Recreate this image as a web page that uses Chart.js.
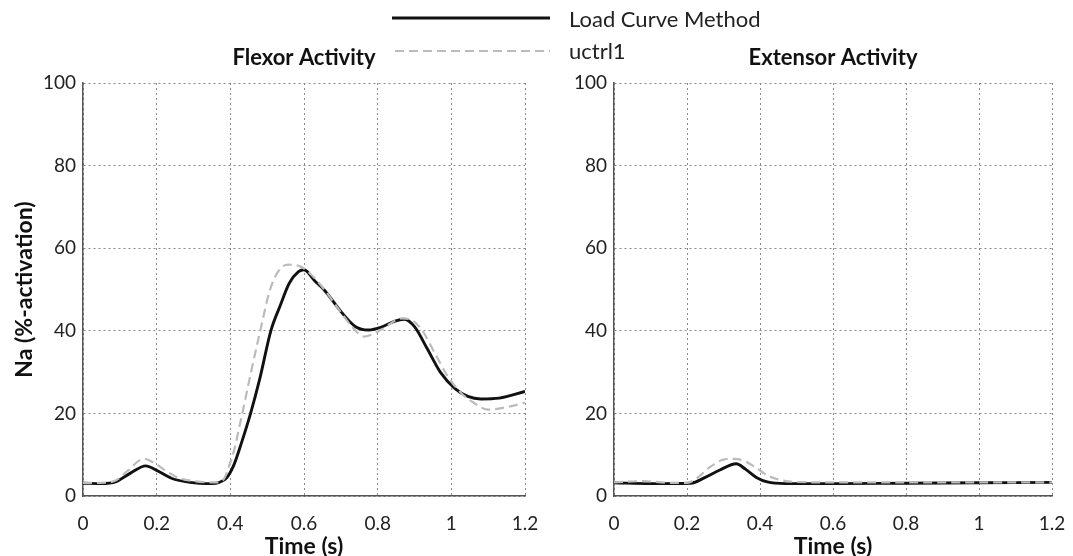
<!DOCTYPE html>
<html>
<head>
<meta charset="utf-8">
<script src="https://cdn.jsdelivr.net/npm/chart.js@4"></script>
<style>
  body { margin: 0; background: #fff; width: 1073px; height: 556px; overflow: hidden; position: relative; font-family: Lato, sans-serif; }
  .wrap { position: absolute; top: 0; }
  .lg { position: absolute; font-size: 22px; color: #222; line-height: 1; white-space: nowrap; }
  #keys { position: absolute; left: 0; top: 0; }
</style>
</head>
<body>
<div class="wrap" style="left:0"><canvas id="flexor" width="545" height="556"></canvas></div>
<div class="wrap" style="left:540px"><canvas id="extensor" width="533" height="556"></canvas></div>

<svg id="keys" width="1073" height="70">
  <line x1="392" y1="18" x2="550" y2="18" stroke="#111" stroke-width="2.8" />
  <line x1="395" y1="51" x2="550" y2="51" stroke="#bbb" stroke-width="2.2" stroke-dasharray="9 5" />
</svg>
<div class="lg" style="left:569px;top:8px">Load Curve Method</div>
<div class="lg" style="left:569px;top:40px">uctrl1</div>

<script>
// time (s) and activation (%)
const flexLoadT = [0, 0.05, 0.09, 0.13, 0.17, 0.2, 0.24, 0.29, 0.35, 0.37, 0.39, 0.41, 0.43, 0.455, 0.48, 0.51, 0.535, 0.56, 0.585, 0.6, 0.63, 0.655, 0.7, 0.74, 0.775, 0.81, 0.845, 0.873, 0.9, 0.935, 0.97, 1.01, 1.045, 1.08, 1.13, 1.2];
const flexLoad  = [3.1, 3.0, 3.5, 5.6, 7.3, 6.2, 4.3, 3.3, 3.0, 3.3, 4.4, 7.6, 12.8, 20, 28.4, 40, 46, 51.5, 54.3, 54.8, 52, 49.9, 44.7, 41, 40.2, 40.9, 42.3, 42.8, 41, 35.6, 30, 26, 24.1, 23.5, 23.7, 25.3];

const flexUctrlT = [0, 0.05, 0.09, 0.12, 0.165, 0.2, 0.23, 0.26, 0.3, 0.37, 0.385, 0.4, 0.41, 0.43, 0.455, 0.48, 0.508, 0.535, 0.56, 0.59, 0.61, 0.655, 0.7, 0.735, 0.764, 0.81, 0.865, 0.89, 0.92, 0.955, 0.99, 1.027, 1.064, 1.1, 1.155, 1.2];
const flexUctrl  = [3.2, 3.2, 3.8, 6.0, 9.0, 7.6, 5.8, 4.4, 3.6, 3.3, 4.5, 8.2, 11, 19, 29.5, 39.5, 50, 55, 56, 55.6, 54.4, 50, 44.5, 40.5, 38.6, 40.3, 43, 42.7, 40.2, 34.6, 29, 24.9, 22.4, 20.9, 21.6, 22.6];

const extLoadT = [0, 0.1, 0.21, 0.25, 0.29, 0.335, 0.36, 0.39, 0.42, 0.47, 0.6, 0.8, 1.0, 1.2];
const extLoad  = [3.2, 3.0, 3.1, 4.5, 6.3, 7.8, 6.5, 4.5, 3.4, 3.0, 3.0, 3.1, 3.2, 3.3];

const extUctrlT = [0, 0.08, 0.15, 0.2, 0.23, 0.26, 0.3, 0.33, 0.36, 0.39, 0.42, 0.45, 0.5, 0.6, 1.2];
const extUctrl  = [3.3, 3.6, 3.2, 3.2, 4.5, 6.8, 8.8, 9.0, 8.4, 6.8, 5.0, 4.0, 3.4, 3.3, 3.3];

const timeTicks = [0, 0.2, 0.4, 0.6, 0.8, 1, 1.2];

const pts = (t, v) => t.map((x, i) => ({ x: x, y: v[i] }));

function makeChart(id, title, loadT, load, uT, u, yWidth, padRight, yTitle) {
  new Chart(document.getElementById(id), {
    type: 'line',
    data: {
      datasets: [
        {
          label: 'uctrl1',
          data: pts(uT, u),
          borderColor: '#bbbbbb',
          borderWidth: 2.2,
          borderDash: [9, 5],
          pointRadius: 0,
          tension: 0.4,
          cubicInterpolationMode: 'monotone',
        },
        {
          label: 'Load Curve Method',
          data: pts(loadT, load),
          borderColor: '#111',
          borderWidth: 2.9,
          pointRadius: 0,
          tension: 0.4,
          cubicInterpolationMode: 'monotone',
        }
      ]
    },
    options: {
      responsive: false,
      animation: false,
      layout: { padding: { left: 0, right: padRight, top: 0, bottom: 0 } },
      plugins: {
        legend: { display: false },
        tooltip: { enabled: false },
        title: {
          display: true,
          fullSize: false,
          text: title,
          color: '#111',
          font: { family: 'Lato', size: 22, weight: 'bold', lineHeight: 1.2 },
          padding: { top: 45, bottom: 11.6 }
        }
      },
      scales: {
        x: {
          type: 'linear',
          min: 0,
          max: 1.2,
          afterFit: s => { s.height = 60; s.paddingLeft = 0; s.paddingRight = 0; },
          afterBuildTicks: s => { s.ticks = timeTicks.map(v => ({ value: v })); },
          ticks: {
            color: '#222',
            padding: 16,
            maxRotation: 0,
            font: { family: 'Lato', size: 19 },
            callback: v => String(Math.round(v * 10) / 10)
          },
          grid: { color: '#8a8a8a', lineWidth: 1, drawTicks: false },
          border: { display: true, color: '#555', width: 1.5, dash: [2, 3] },
          title: {
            display: true,
            text: 'Time (s)',
            color: '#111',
            font: { family: 'Lato', size: 23, weight: 'bold', lineHeight: 1 },
            padding: { top: 0, bottom: -2 }
          }
        },
        y: {
          min: 0,
          max: 100,
          afterFit: s => { s.width = yWidth; s.paddingTop = 0; s.paddingBottom = 0; },
          ticks: {
            stepSize: 20,
            color: '#222',
            padding: 7,
            font: { family: 'Lato', size: 19 }
          },
          grid: { color: '#8a8a8a', lineWidth: 1, drawTicks: false },
          border: { display: true, color: '#555', width: 1.5, dash: [2, 3] },
          title: {
            display: !!yTitle,
            text: yTitle || '',
            color: '#111',
            font: { family: 'Lato', size: 23, weight: 'bold', lineHeight: 1 },
            padding: { top: 13, bottom: 0 }
          }
        }
      }
    }
  });
}

makeChart('flexor', 'Flexor Activity', flexLoadT, flexLoad, flexUctrlT, flexUctrl, 83, 20, 'Na (%-activation)');
makeChart('extensor', 'Extensor Activity', extLoadT, extLoad, extUctrlT, extUctrl, 74, 21, '');
</script>
</body>
</html>
